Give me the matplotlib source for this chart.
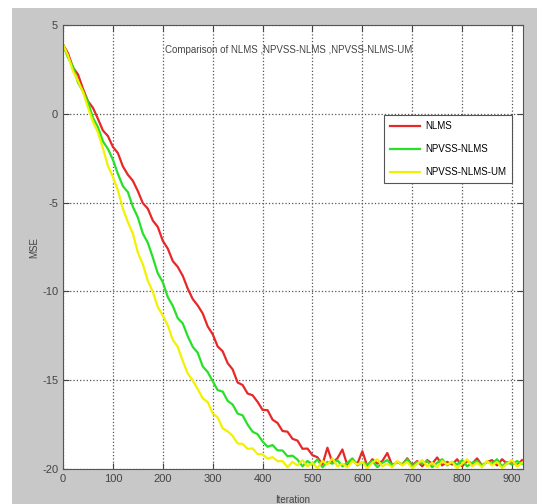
import numpy as np
import matplotlib
matplotlib.use("Agg")
import matplotlib.pyplot as plt
from matplotlib.patches import Rectangle

plt.rcParams['font.family'] = ['Liberation Sans', 'DejaVu Sans']
plt.rcParams['axes.unicode_minus'] = False

iters = np.arange(0, 930, 10)

mse_nlms = [
    3.90, 3.41, 2.60, 2.22, 1.41, 0.71, 0.34, -0.28, -0.94, -1.25,
    -1.86, -2.21, -2.96, -3.43, -3.77, -4.35, -5.03, -5.34, -6.01, -6.37,
    -7.15, -7.59, -8.29, -8.62, -9.12, -9.84, -10.43, -10.79, -11.24, -11.97,
    -12.41, -13.10, -13.37, -14.04, -14.39, -15.13, -15.27, -15.75, -15.85, -16.22,
    -16.67, -16.69, -17.22, -17.41, -17.86, -17.90, -18.30, -18.40, -18.86, -18.85,
    -19.22, -19.34,
    -19.75, -18.80, -19.65, -19.40, -18.90, -19.80, -19.50, -19.70, -19.00, -19.85,
    -19.45, -19.70, -19.55, -19.10, -19.80, -19.60, -19.75, -19.40, -19.80, -19.55,
    -19.85, -19.50, -19.70, -19.35, -19.80, -19.60, -19.75, -19.45, -19.85, -19.55,
    -19.70, -19.40, -19.80, -19.60, -19.50, -19.80, -19.45, -19.70, -19.55, -19.80,
    -19.50,
]

mse_npvss = [
    3.90, 3.17, 2.66, 1.76, 1.26, 0.67, -0.22, -0.75, -1.55, -1.97,
    -2.58, -3.38, -4.07, -4.41, -5.23, -5.83, -6.74, -7.26, -8.09, -8.98,
    -9.48, -10.32, -10.81, -11.51, -11.80, -12.52, -13.12, -13.45, -14.22, -14.54,
    -15.05, -15.56, -15.64, -16.16, -16.37, -16.88, -16.98, -17.50, -17.90, -18.04,
    -18.45, -18.75, -18.65, -18.95, -18.96, -19.28, -19.25, -19.47,
    -19.85, -19.55, -19.75, -19.45, -19.90, -19.60, -19.70, -19.50, -19.85, -19.65,
    -19.40, -19.80, -19.60, -19.75, -19.55, -19.90, -19.65, -19.50, -19.80, -19.60,
    -19.75, -19.45, -19.85, -19.60, -19.70, -19.55, -19.90, -19.65, -19.45, -19.80,
    -19.60, -19.75, -19.50, -19.85, -19.65, -19.55, -19.80, -19.60, -19.70, -19.45,
    -19.85, -19.60, -19.75, -19.55, -19.70,
]

mse_npvss_um = [
    3.90, 3.28, 2.40, 1.85, 1.24, 0.35, -0.45, -1.05, -1.94, -2.93,
    -3.55, -4.31, -5.34, -6.09, -6.75, -7.81, -8.47, -9.40, -10.02, -10.88,
    -11.36, -11.91, -12.73, -13.12, -13.92, -14.62, -15.01, -15.50, -16.02, -16.23,
    -16.86, -17.10, -17.71, -17.88, -18.14, -18.56, -18.59, -18.87, -18.84, -19.16,
    -19.17, -19.42, -19.33, -19.56, -19.55,
    -19.90, -19.60, -19.80, -19.50, -19.85, -19.65, -19.95, -19.55, -19.75, -19.40,
    -19.85, -19.70, -19.90, -19.55, -19.75, -19.60, -19.95, -19.65, -19.45, -19.85,
    -19.70, -19.90, -19.55, -19.80, -19.60, -19.95, -19.70, -19.50, -19.85, -19.65,
    -19.90, -19.55, -19.75, -19.60, -19.95, -19.70, -19.45, -19.85, -19.65, -19.90,
    -19.55, -19.80, -19.60, -19.95, -19.70, -19.50, -19.85, -19.65,
]

labels = ['NLMS', 'NPVSS-NLMS', 'NPVSS-NLMS-UM']
colors = ['#e82828', '#28e028', '#f2f200']

fig = plt.figure(figsize=(5.37, 5.04), dpi=100, facecolor='white')
# matlab style grey figure background, kept behind the axes
fig.patches.append(Rectangle((12 / 537, 0), 1, 1 - 8 / 504, transform=fig.transFigure,
                             facecolor='#c8c8c8', edgecolor='none', zorder=-10))

ax = fig.add_axes([63 / 537, 1 - 469 / 504, 460 / 537, 444 / 504])
ax.set_facecolor('white')

for y, lab, c in zip([mse_nlms, mse_npvss, mse_npvss_um], labels, colors):
    ax.plot(iters, y, color=c, lw=1.6, label=lab)

ax.set_xlim(0, 922)
ax.set_ylim(-20, 5)
ax.set_xticks(np.arange(0, 1000, 100))
ax.set_yticks([5, 0, -5, -10, -15, -20])
ax.tick_params(direction='in', top=True, right=True, labelsize=8, colors='#444444', length=4)
ax.grid(True, linestyle=':', color='#555555', lw=0.9)
for s in ax.spines.values():
    s.set_color('#555555')

ax.set_xlabel('Iteration', fontsize=7, color='#444444', labelpad=8)
ax.set_ylabel('MSE', fontsize=7, color='#444444', labelpad=2)
ax.text(0.49, 0.944, 'Comparison of NLMS ,NPVSS-NLMS ,NPVSS-NLMS-UM',
        transform=ax.transAxes, ha='center', va='center', fontsize=7, color='#444444')

leg = ax.legend(loc='upper right', bbox_to_anchor=(0.976, 0.797), fontsize=7,
                fancybox=False, framealpha=1, edgecolor='#555555', handlelength=3.1,
                handletextpad=0.5, labelspacing=1.35, borderpad=0.6, borderaxespad=0)
leg.get_frame().set_linewidth(0.8)

fig.savefig('out.png', dpi=100, facecolor=fig.get_facecolor())
